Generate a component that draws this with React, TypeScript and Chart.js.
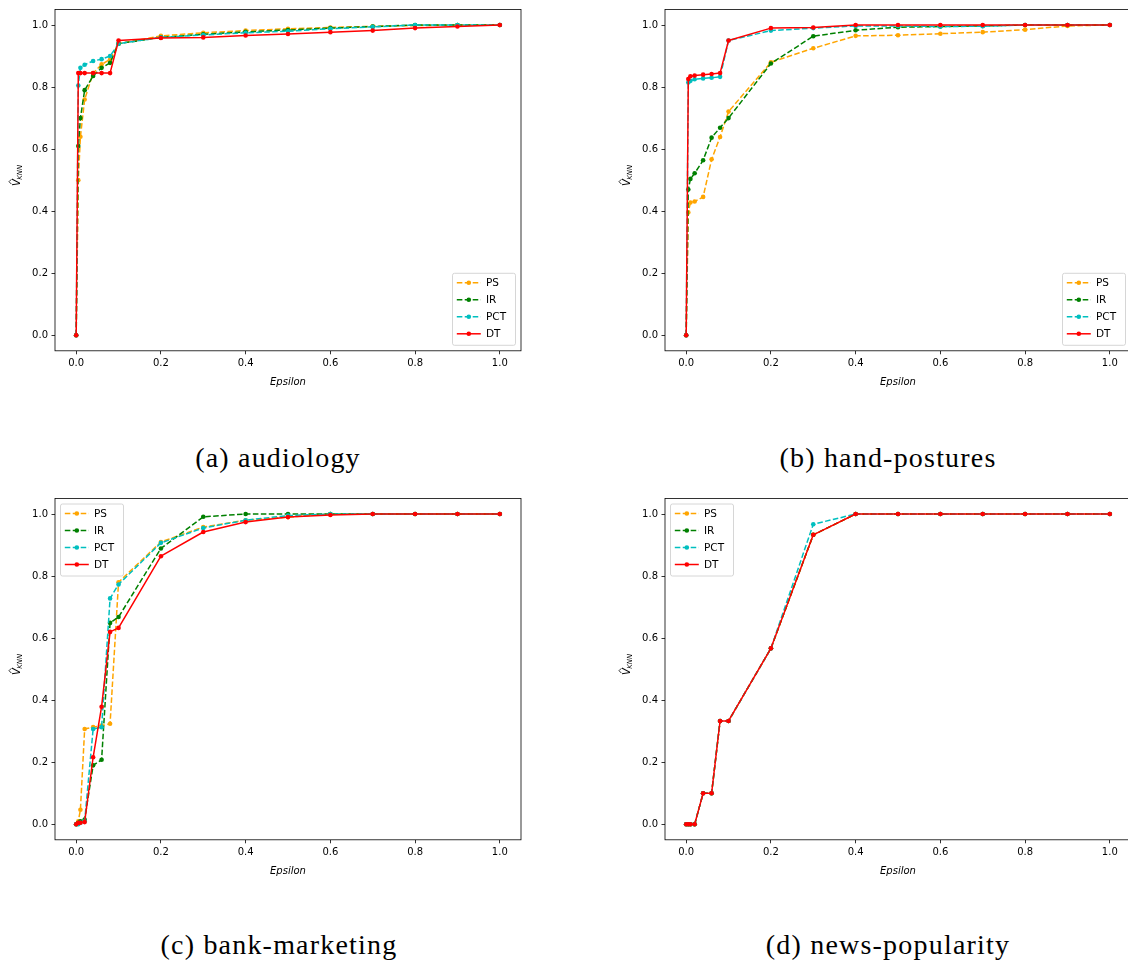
import React, { useEffect, useRef } from "react";
import { Chart, registerables } from "chart.js";

Chart.register(...registerables);

// Privacy budget values shared by every dataset
const epsilon = [0, 0.005, 0.01, 0.02, 0.04, 0.06, 0.08, 0.1, 0.2, 0.3, 0.4, 0.5, 0.6, 0.7, 0.8, 0.9, 1.0];
const tickValues = [0, 0.2, 0.4, 0.6, 0.8, 1.0];

const methodNames = ["PS", "IR", "PCT", "DT"];
const methodColors = ["#ffa500", "#008000", "#00bfbf", "#ff0000"];
const methodDashed = [true, true, true, false];

// (a) audiology
const audiologyPS = [0, 0.5, 0.64, 0.76, 0.845, 0.873, 0.889, 0.94, 0.965, 0.975, 0.982, 0.988, 0.992, 0.996, 0.998, 1.0, 1.0];
const audiologyIR = [0, 0.61, 0.7, 0.79, 0.836, 0.862, 0.878, 0.94, 0.96, 0.97, 0.978, 0.984, 0.99, 0.995, 1.0, 1.0, 1.0];
const audiologyPCT = [0, 0.805, 0.862, 0.872, 0.884, 0.89, 0.9, 0.94, 0.96, 0.968, 0.975, 0.98, 0.988, 0.994, 1.0, 1.0, 1.0];
const audiologyDT = [0, 0.845, 0.845, 0.845, 0.845, 0.845, 0.845, 0.95, 0.958, 0.96, 0.966, 0.971, 0.977, 0.982, 0.99, 0.995, 1.0];

// (b) hand-postures
const handPS = [0, 0.396, 0.428, 0.431, 0.446, 0.567, 0.639, 0.721, 0.88, 0.925, 0.965, 0.967, 0.972, 0.977, 0.985, 0.997, 1.0];
const handIR = [0, 0.47, 0.504, 0.522, 0.564, 0.637, 0.669, 0.7, 0.876, 0.964, 0.983, 0.993, 0.995, 0.997, 1.0, 1.0, 1.0];
const handPCT = [0, 0.815, 0.82, 0.825, 0.828, 0.83, 0.833, 0.95, 0.982, 0.99, 0.997, 0.997, 0.995, 0.996, 1.0, 1.0, 1.0];
const handDT = [0, 0.826, 0.835, 0.837, 0.84, 0.842, 0.845, 0.95, 0.99, 0.992, 1.0, 1.0, 1.0, 1.0, 1.0, 1.0, 1.0];

// (c) bank-marketing
const bankPS = [0, 0.01, 0.047, 0.307, 0.313, 0.318, 0.324, 0.78, 0.91, 0.958, 0.98, 0.99, 1.0, 1.0, 1.0, 1.0, 1.0];
const bankIR = [0, 0.005, 0.01, 0.015, 0.19, 0.208, 0.649, 0.668, 0.889, 0.991, 1.0, 1.0, 1.0, 1.0, 1.0, 1.0, 1.0];
const bankPCT = [0, 0, 0.005, 0.01, 0.307, 0.313, 0.728, 0.773, 0.907, 0.955, 0.98, 0.995, 1.0, 1.0, 1.0, 1.0, 1.0];
const bankDT = [0, 0.005, 0.005, 0.007, 0.216, 0.379, 0.62, 0.633, 0.864, 0.942, 0.974, 0.99, 0.997, 1.0, 1.0, 1.0, 1.0];

// (d) news-popularity
const newsPS = [0, 0, 0, 0, 0.1, 0.1, 0.333, 0.333, 0.567, 0.933, 1.0, 1.0, 1.0, 1.0, 1.0, 1.0, 1.0];
const newsIR = [0, 0, 0, 0, 0.1, 0.1, 0.333, 0.333, 0.567, 0.933, 1.0, 1.0, 1.0, 1.0, 1.0, 1.0, 1.0];
const newsPCT = [0, 0, 0, 0, 0.1, 0.1, 0.333, 0.333, 0.567, 0.967, 1.0, 1.0, 1.0, 1.0, 1.0, 1.0, 1.0];
const newsDT = [0, 0, 0, 0, 0.1, 0.1, 0.333, 0.333, 0.567, 0.933, 1.0, 1.0, 1.0, 1.0, 1.0, 1.0, 1.0];

const captions = ["(a) audiology", "(b) hand-postures", "(c) bank-marketing", "(d) news-popularity"];

const SANS = '"DejaVu Sans", sans-serif';
const DASH = [5.55, 2.4];

type Corner = "lower right" | "upper left";

function drawLegend(ctx: CanvasRenderingContext2D, area: any, corner: Corner) {
  const w = 63;
  const h = 72;
  const pad = 5.5;
  const left = corner === "lower right" ? area.right - pad - w : area.left + pad;
  const top = corner === "lower right" ? area.bottom - pad - h : area.top + pad;
  ctx.save();
  ctx.beginPath();
  ctx.roundRect(left, top, w, h, 2);
  ctx.fillStyle = "rgba(255,255,255,0.8)";
  ctx.fill();
  ctx.lineWidth = 0.8;
  ctx.strokeStyle = "#cccccc";
  ctx.stroke();
  methodNames.forEach((name, i) => {
    const cy = top + 9.5 + i * 17;
    ctx.beginPath();
    ctx.setLineDash(methodDashed[i] ? DASH : []);
    ctx.moveTo(left + 4.3, cy);
    ctx.lineTo(left + 28.3, cy);
    ctx.strokeStyle = methodColors[i];
    ctx.lineWidth = 1.5;
    ctx.stroke();
    ctx.setLineDash([]);
    ctx.beginPath();
    ctx.arc(left + 16.3, cy, 2.3, 0, Math.PI * 2);
    ctx.fillStyle = methodColors[i];
    ctx.fill();
    ctx.fillStyle = "#000";
    ctx.font = `10.5px ${SANS}`;
    ctx.textBaseline = "middle";
    ctx.textAlign = "left";
    ctx.fillText(name, left + 33.5, cy + 0.5);
  });
  ctx.restore();
}

function drawAxisTitles(ctx: CanvasRenderingContext2D, area: any) {
  ctx.save();
  ctx.fillStyle = "#000";
  // x-axis title
  ctx.font = `italic 10px ${SANS}`;
  ctx.textAlign = "center";
  ctx.textBaseline = "alphabetic";
  ctx.fillText("Epsilon", (area.left + area.right) / 2, area.bottom + 34.5);

  // y-axis title: V with a hat accent and a KNN subscript, rotated
  const cy = (area.top + area.bottom) / 2 - 5;
  ctx.translate(area.left - 35, cy);
  ctx.rotate(-Math.PI / 2);
  ctx.textAlign = "left";
  ctx.font = `italic 10px ${SANS}`;
  const vW = ctx.measureText("V").width;
  ctx.font = `italic 7px ${SANS}`;
  const sW = ctx.measureText("KNN").width;
  const total = vW + sW;
  const sx = -total / 2;
  ctx.font = `italic 10px ${SANS}`;
  ctx.fillText("V", sx, 0);
  const hx = sx + vW / 2 + 1;
  ctx.beginPath();
  ctx.moveTo(hx - 2.4, -8.6);
  ctx.lineTo(hx, -11);
  ctx.lineTo(hx + 2.4, -8.6);
  ctx.lineWidth = 0.8;
  ctx.strokeStyle = "#000";
  ctx.stroke();
  ctx.font = `italic 7px ${SANS}`;
  ctx.fillText("KNN", sx + vW - 0.5, 2);
  ctx.restore();
}

function buildConfig(series: number[][], corner: Corner): any {
  const datasets = series.map((vals, i) => ({
    label: methodNames[i],
    data: epsilon.map((x, j) => ({ x, y: vals[j] })),
    borderColor: methodColors[i],
    backgroundColor: methodColors[i],
    pointBackgroundColor: methodColors[i],
    pointBorderColor: methodColors[i],
    pointBorderWidth: 0,
    pointRadius: 2.3,
    borderWidth: 1.5,
    borderDash: methodDashed[i] ? DASH : [],
    borderJoinStyle: "round",
    order: series.length - i,
    fill: false,
    tension: 0,
  }));

  const axisCommon = (fixSize: (s: any) => void) => ({
    type: "linear",
    min: -0.05,
    max: 1.05,
    afterBuildTicks: (s: any) => {
      s.ticks = tickValues.map((v) => ({ value: v }));
    },
    afterFit: fixSize,
    ticks: {
      callback: (v: any) => Number(v).toFixed(1),
      font: { family: SANS, size: 10 },
      color: "#000",
      padding: 3.5,
      autoSkip: false,
      maxRotation: 0,
    },
    grid: {
      display: true,
      drawOnChartArea: false,
      drawTicks: true,
      tickLength: 3.5,
      tickWidth: 0.8,
      tickColor: "#000",
    },
    border: { display: false },
  });

  const framePlugin = {
    id: "frameAndLegend",
    afterDraw(chart: any) {
      const { ctx, chartArea } = chart;
      ctx.save();
      ctx.lineWidth = 0.8;
      ctx.strokeStyle = "#000";
      ctx.strokeRect(chartArea.left, chartArea.top, chartArea.right - chartArea.left, chartArea.bottom - chartArea.top);
      ctx.restore();
      drawAxisTitles(ctx, chartArea);
      drawLegend(ctx, chartArea, corner);
    },
  };

  return {
    type: "line",
    data: { datasets },
    options: {
      animation: false,
      responsive: false,
      events: [],
      layout: { padding: { left: 0, top: 2.5, right: 43, bottom: 0 } },
      plugins: { legend: { display: false }, tooltip: { enabled: false } },
      scales: {
        x: axisCommon((s: any) => {
          s.height = 49.2;
        }),
        y: axisCommon((s: any) => {
          s.width = 55;
        }),
      },
    },
    plugins: [framePlugin],
  };
}

function Panel(props: { left: number; top: number; series: number[][]; corner: Corner }) {
  const ref = useRef<HTMLCanvasElement>(null);
  useEffect(() => {
    const chart = new Chart(ref.current as HTMLCanvasElement, buildConfig(props.series, props.corner));
    return () => chart.destroy();
  }, []);
  return (
    <canvas
      ref={ref}
      width={564}
      height={400}
      style={{ position: "absolute", left: props.left, top: props.top, width: 564, height: 400 }}
    />
  );
}

function Caption(props: { text: string; centerX: number; baseline: number }) {
  return (
    <div
      style={{
        position: "absolute",
        left: props.centerX - 200,
        top: props.baseline - 23.5,
        width: 400,
        textAlign: "center",
        fontFamily: '"Liberation Serif", serif',
        fontSize: 28,
        lineHeight: "28px",
        letterSpacing: "1.2px",
        color: "#000",
        whiteSpace: "nowrap",
      }}
    >
      {props.text}
    </div>
  );
}

export default function App() {
  return (
    <div
      style={{
        position: "fixed",
        left: 0,
        top: 0,
        width: 1128,
        height: 965,
        overflow: "hidden",
        background: "#fff",
      }}
    >
      <Panel left={0} top={0} series={[audiologyPS, audiologyIR, audiologyPCT, audiologyDT]} corner="lower right" />
      <Panel left={610} top={0} series={[handPS, handIR, handPCT, handDT]} corner="lower right" />
      <Panel left={0} top={489} series={[bankPS, bankIR, bankPCT, bankDT]} corner="upper left" />
      <Panel left={610} top={489} series={[newsPS, newsIR, newsPCT, newsDT]} corner="upper left" />
      <Caption text={captions[0]} centerX={278} baseline={467.3} />
      <Caption text={captions[1]} centerX={888} baseline={467.3} />
      <Caption text={captions[2]} centerX={279} baseline={954.5} />
      <Caption text={captions[3]} centerX={888} baseline={954.5} />
    </div>
  );
}
